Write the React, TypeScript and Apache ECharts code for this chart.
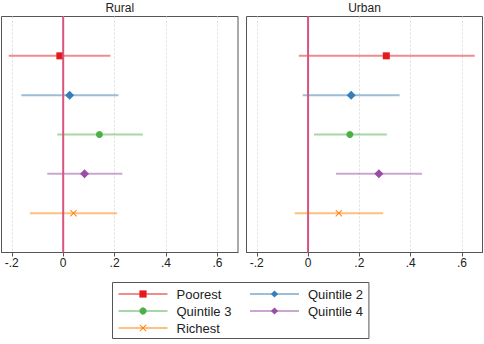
import React, { useEffect, useRef } from "react";
import * as echarts from "echarts";

const panels = ["Rural", "Urban"];
const groups = ["Poorest", "Quintile 2", "Quintile 3", "Quintile 4", "Richest"];
const rows = [1, 2, 3, 4, 5];

const ruralEst = [-0.013, 0.025, 0.141, 0.083, 0.04];
const ruralLo = [-0.212, -0.163, -0.023, -0.062, -0.13];
const ruralHi = [0.184, 0.215, 0.31, 0.23, 0.21];

const urbanEst = [0.305, 0.168, 0.163, 0.276, 0.12];
const urbanLo = [-0.036, -0.021, 0.023, 0.109, -0.052];
const urbanHi = [0.65, 0.357, 0.307, 0.444, 0.293];

const tickValues = [-0.2, 0, 0.2, 0.4, 0.6];

const colors = ["#e41a1c", "#377eb8", "#4daf4a", "#984ea3", "#ff7f00"];
const lineColors = [
  "rgba(228,26,28,0.5)",
  "rgba(55,126,184,0.5)",
  "rgba(77,175,74,0.5)",
  "rgba(152,78,163,0.5)",
  "rgba(255,127,0,0.5)",
];
const symbols = [
  "rect",
  "diamond",
  "circle",
  "diamond",
  "path://M1,0L5,4L9,0L10,1L6,5L10,9L9,10L5,6L1,10L0,9L4,5L0,1Z",
];
const symbolSizes = [7, 9, 7, 9, 7];

const FONT = "'Liberation Sans', Arial, sans-serif";

export default function App() {
  const ref = useRef<HTMLDivElement>(null);
  useEffect(() => {
    document.body.style.margin = "0";
    const chart = echarts.init(ref.current!, null, { renderer: "svg" });
    const data = [
      { est: ruralEst, lo: ruralLo, hi: ruralHi },
      { est: urbanEst, lo: urbanLo, hi: urbanHi },
    ];
    const grids = [
      { left: 1.5, top: 16.5, width: 236.5, height: 236 },
      { left: 246.5, top: 16.5, width: 236, height: 236 },
    ];
    const series: any[] = [];
    data.forEach((d, p) => {
      groups.forEach((g, i) => {
        series.push({
          type: "line",
          name: g,
          xAxisIndex: p,
          yAxisIndex: p,
          data: [
            [d.lo[i], rows[i]],
            [d.est[i], rows[i]],
            [d.hi[i], rows[i]],
          ],
          symbol: symbols[i],
          symbolSize: (_v: any, params: any) =>
            params.dataIndex === 1 ? symbolSizes[i] : 0,
          showAllSymbol: true,
          lineStyle: { color: lineColors[i], width: 2 },
          itemStyle: { color: colors[i] },
          emphasis: { disabled: true },
          silent: true,
          z: 3,
        });
      });
      series.push({
        type: "line",
        name: "ref" + p,
        xAxisIndex: p,
        yAxisIndex: p,
        data: [
          [0, 0],
          [0, 6],
        ],
        symbol: "none",
        lineStyle: { color: "#d9537c", width: 2 },
        silent: true,
        z: 4,
      });
    });
    const xAxes = grids.map((_, p) => ({
      type: "value",
      gridIndex: p,
      min: -0.24,
      max: 0.68,
      axisLine: { show: true, onZero: false, lineStyle: { color: "#555", width: 1 } },
      axisTick: {
        show: true,
        customValues: tickValues,
        length: 4,
        lineStyle: { color: "#555" },
      },
      axisLabel: {
        customValues: tickValues,
        margin: 4,
        fontSize: 12,
        fontFamily: FONT,
        color: "#222",
        formatter: (v: number) => {
          if (Math.abs(v) < 1e-9) return "0";
          const s = v.toFixed(1);
          return s.replace(/^(-?)0\./, "$1.");
        },
      },
      splitLine: {
        show: true,
        lineStyle: { color: "#dcdcdc", type: [2, 2], width: 1 },
      },
    }));
    const yAxes = grids.map((_, p) => ({
      type: "value",
      gridIndex: p,
      min: 0,
      max: 6,
      inverse: true,
      axisLine: { show: false },
      axisTick: { show: false },
      axisLabel: { show: false },
      splitLine: { show: false },
    }));
    chart.setOption({
      animation: false,
      grid: grids.map((g) => ({
        ...g,
        show: true,
        borderColor: "#555",
        borderWidth: 1,
        backgroundColor: "#fff",
      })),
      xAxis: xAxes,
      yAxis: yAxes,
      series,
      legend: {
        data: groups,
        left: 112.5,
        top: 282.5,
        width: 250,
        orient: "horizontal",
        itemWidth: 49,
        itemHeight: 9,
        itemGap: 4,
        padding: [5, 6, 4, 5],
        borderColor: "#555",
        borderWidth: 1,
        borderRadius: 0,
        selectedMode: false,
        formatter: (name: string) =>
          groups.indexOf(name) % 2 === 0 ? `{a|${name}}` : `{b|${name}}`,
        textStyle: {
          fontSize: 13,
          fontFamily: FONT,
          color: "#222",
          rich: {
            a: { width: 68.5, fontSize: 13, fontFamily: FONT, color: "#222", padding: [0, 0, 0, 4], lineHeight: 14.5 },
            b: { width: 54, fontSize: 13, fontFamily: FONT, color: "#222", padding: [0, 0, 0, 4], lineHeight: 14.5 },
          },
        },
      },
      graphic: panels.map((name, p) => ({
        type: "text",
        x: grids[p].left + grids[p].width / 2,
        y: 8,
        style: {
          text: name,
          textAlign: "center",
          textVerticalAlign: "middle",
          font: `12px ${FONT}`,
          fill: "#222",
        },
      })),
    });
    return () => chart.dispose();
  }, []);
  return <div ref={ref} style={{ width: 484, height: 344 }} />;
}
